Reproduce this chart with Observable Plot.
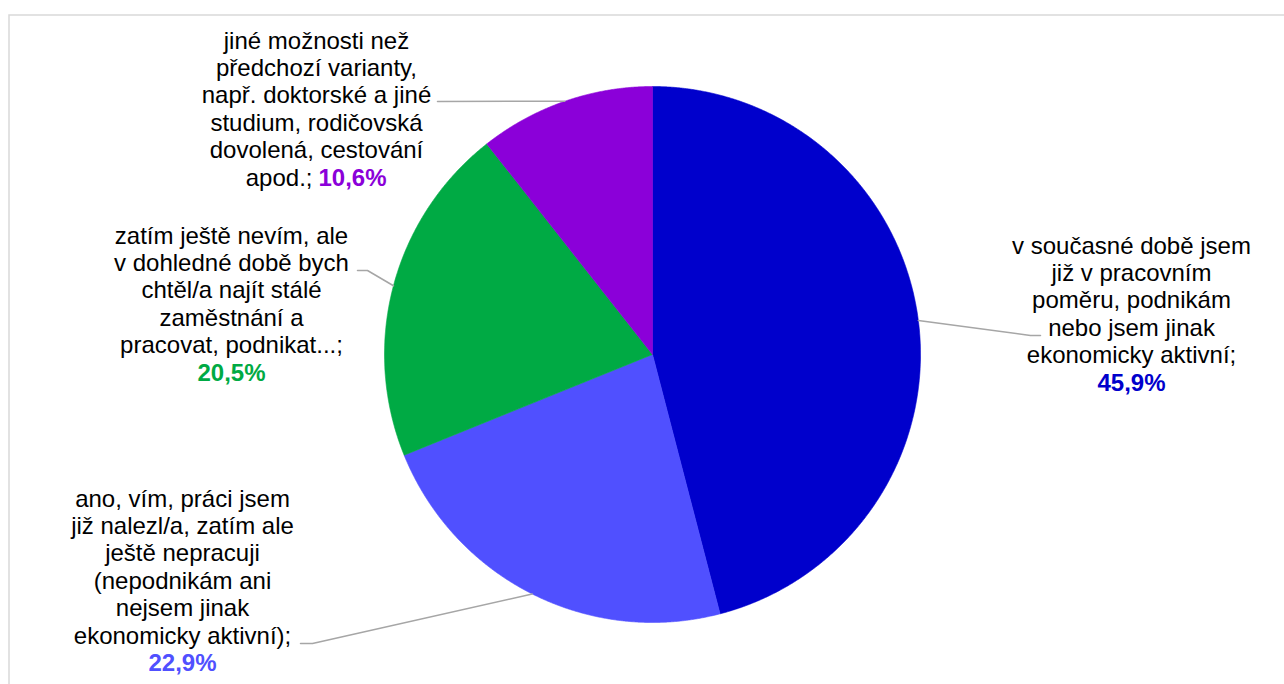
<!DOCTYPE html>
<html>
<head>
<meta charset="utf-8">
<script src="https://cdn.jsdelivr.net/npm/d3@7"></script>
<script src="https://cdn.jsdelivr.net/npm/@observablehq/plot@0.6"></script>
<style>
  html, body { margin: 0; padding: 0; background: #ffffff; }
  svg { display: block; }
</style>
</head>
<body>
<script>
// ---- data ----
const categories = [
  "v současné době jsem\njiž v pracovním\nporněru, podnikám\nnebo jsem jinak\nekonomicky aktivní;",
  "ano, vím, práci jsem\njiž nalezl/a, zatím ale\nještě nepracuji\n(nepodnikám ani\nnejsem jinak\nekonomicky aktivní);",
  "zatím ještě nevím, ale\nv dohledné době bych\nchtěl/a najít stálé\nzaměstnání a\npracovat, podnikat...;",
  "jiné možnosti než\npředchozí varianty,\nnapř. doktorské a jiné\nstudium, rodičovská\ndovolená, cestování\napod.;"
];
categories[0] = categories[0].replace("porněru", "poměru");
const shares = [45.9, 22.9, 20.5, 10.6];
const shareLabels = shares.map(v => v.toFixed(1).replace(".", ",") + "%");

// ---- styles / layout ----
const colors = ["#0000CC", "#5050FF", "#00AA44", "#8B00D9"];
const W = 1284, H = 684;
const cx = 652, cy = 354, R = 268;
const fontSize = 24, lineH = 27.4;
const font = "'Liberation Sans', Arial, sans-serif";
// label block: center x, first baseline, percent inline?, leader elbow & end
const labelLayout = [
  {x: 1131, base: 253, inline: false, elbow: [1030, 335], end: [1040, 335]},
  {x: 182,  base: 506, inline: false, elbow: [312, 643],  end: [300, 643]},
  {x: 231,  base: 243, inline: false, elbow: [367, 270],  end: [357, 270]},
  {x: 316,  base: 48,  inline: true,  elbow: [437, 101],  end: [437, 101]}
];

// ---- geometry from data ----
const arcs = d3.pie().sort(null).value(d => d)(shares);
const pt = (a, r) => [cx + r * Math.sin(a), cy - r * Math.cos(a)];

const sliceMarks = arcs.map((a, i) => {
  const n = Math.max(4, Math.ceil((a.endAngle - a.startAngle) / 0.004));
  const pts = [{x: cx, y: cy}];
  for (let k = 0; k <= n; k++) {
    const ang = a.startAngle + (a.endAngle - a.startAngle) * k / n;
    const [x, y] = pt(ang, R);
    pts.push({x, y});
  }
  pts.push({x: cx, y: cy});
  return Plot.line(pts, {x: "x", y: "y", fill: colors[i], stroke: colors[i], strokeWidth: 0.6, curve: "linear"});
});

const leaders = [];
arcs.forEach((a, i) => {
  const mid = (a.startAngle + a.endAngle) / 2;
  const [sx, sy] = pt(mid, R);
  const L = labelLayout[i];
  leaders.push({i, x: sx, y: sy}, {i, x: L.elbow[0], y: L.elbow[1]}, {i, x: L.end[0], y: L.end[1]});
});

// text rows
const blackText = [], pctText = [], inlineTail = [];
categories.forEach((c, i) => {
  const L = labelLayout[i];
  const lines = c.split("\n");
  if (L.inline) {
    const head = lines.slice(0, -1);
    const last = lines[lines.length - 1];
    head.forEach((t, k) => blackText.push({t, x: L.x, y: L.base + k * lineH - 0.32 * fontSize}));
    const yl = L.base + head.length * lineH - 0.32 * fontSize;
    inlineTail.push({t: last, x: L.x - 4, y: yl});
    pctText.push({t: shareLabels[i], x: L.x + 2, y: yl, c: colors[i], anchor: "start"});
  } else {
    lines.forEach((t, k) => blackText.push({t, x: L.x, y: L.base + k * lineH - 0.32 * fontSize}));
    pctText.push({t: shareLabels[i], x: L.x, y: L.base + lines.length * lineH - 0.32 * fontSize, c: colors[i], anchor: "middle"});
  }
});

const chart = Plot.plot({
  width: W, height: H,
  marginTop: 0, marginRight: 0, marginBottom: 0, marginLeft: 0,
  x: {domain: [0, W], range: [0, W], axis: null},
  y: {domain: [0, H], range: [0, H], axis: null},
  style: {fontFamily: font, background: "#ffffff"},
  marks: [
    Plot.frame({stroke: "#D9D9D9", strokeWidth: 1.5, insetLeft: 8.5, insetTop: 14.5, insetRight: -4, insetBottom: -4}),
    ...sliceMarks,
    Plot.line(leaders, {x: "x", y: "y", z: "i", stroke: "#A6A6A6", strokeWidth: 1.5, curve: "linear"}),
    Plot.text(blackText, {x: "x", y: "y", text: "t", fontSize, fill: "#000000", textAnchor: "middle"}),
    Plot.text(inlineTail, {x: "x", y: "y", text: "t", fontSize, fill: "#000000", textAnchor: "end"}),
    Plot.text(pctText.filter(d => d.anchor === "middle"), {x: "x", y: "y", text: "t", fontSize, fill: d => d.c, fontWeight: "bold", textAnchor: "middle"}),
    Plot.text(pctText.filter(d => d.anchor === "start"), {x: "x", y: "y", text: "t", fontSize, fill: d => d.c, fontWeight: "bold", textAnchor: "start"})
  ]
});
document.body.appendChild(chart);
</script>
</body>
</html>
